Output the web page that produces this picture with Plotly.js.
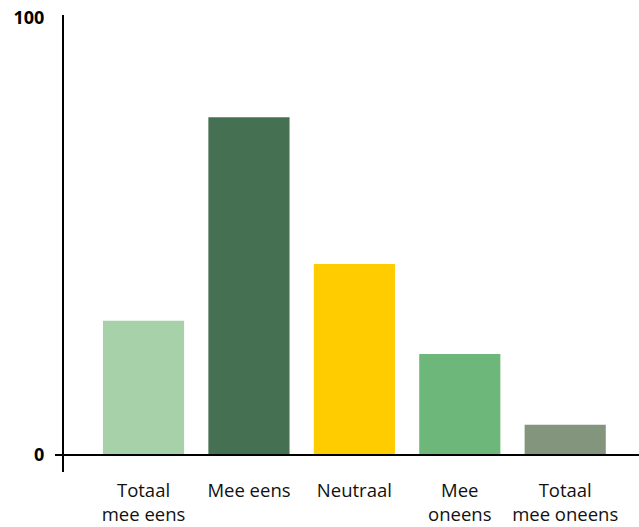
<!DOCTYPE html>
<html>
<head>
<meta charset="utf-8">
<script src="https://cdn.plot.ly/plotly-3.0.1.min.js"></script>
<style>html,body{margin:0;padding:0;background:#fff;}#chart{width:639px;height:527px;}</style>
</head>
<body>
<div id="chart"></div>
<script>
var categories = ["Totaal<br>mee eens", "Mee eens", "Neutraal", "Mee<br>oneens", "Totaal<br>mee oneens"];
var values = [30.7, 77.3, 43.7, 23.1, 6.9];
var colors = ["#a7d1a8", "#467052", "#ffcc00", "#6db77a", "#84957e"];
var yTickVals = [0, 100];
var yTickText = ["0", "100"];

var trace = {
  type: "bar",
  x: categories,
  y: values,
  marker: {color: colors, line: {width: 0}},
  hoverinfo: "none"
};

var yMin = -3.9, yMax = 100.7;
var zeroPaper = (0 - yMin) / (yMax - yMin);

var layout = {
  width: 639,
  height: 527,
  margin: {l: 63, r: 0, t: 15, b: 55},
  paper_bgcolor: "#ffffff",
  plot_bgcolor: "#ffffff",
  showlegend: false,
  bargap: 0.23,
  xaxis: {
    type: "category",
    range: [-0.764, 4.70],
    showline: false,
    showgrid: false,
    zeroline: false,
    ticks: "outside",
    ticklen: 2,
    tickcolor: "rgba(0,0,0,0)",
    tickfont: {family: "Open Sans, sans-serif", size: 18.5, color: "#111"},
    fixedrange: true
  },
  yaxis: {
    range: [yMin, yMax],
    tickvals: yTickVals,
    ticktext: yTickText,
    showline: false,
    showgrid: false,
    zeroline: false,
    ticks: "outside",
    ticklen: 14,
    tickcolor: "rgba(0,0,0,0)",
    tickfont: {family: "Open Sans, sans-serif", size: 18, color: "#000", weight: "bold"},
    fixedrange: true
  },
  shapes: [
    {type: "line", xref: "paper", yref: "paper", x0: 0, x1: 0, y0: 0, y1: 1,
     line: {color: "#000", width: 2}},
    {type: "line", xref: "paper", yref: "paper", x0: -8/576, x1: 1, y0: zeroPaper, y1: zeroPaper,
     line: {color: "#000", width: 2}}
  ]
};

Plotly.newPlot("chart", [trace], layout, {displayModeBar: false, staticPlot: true});
</script>
</body>
</html>
